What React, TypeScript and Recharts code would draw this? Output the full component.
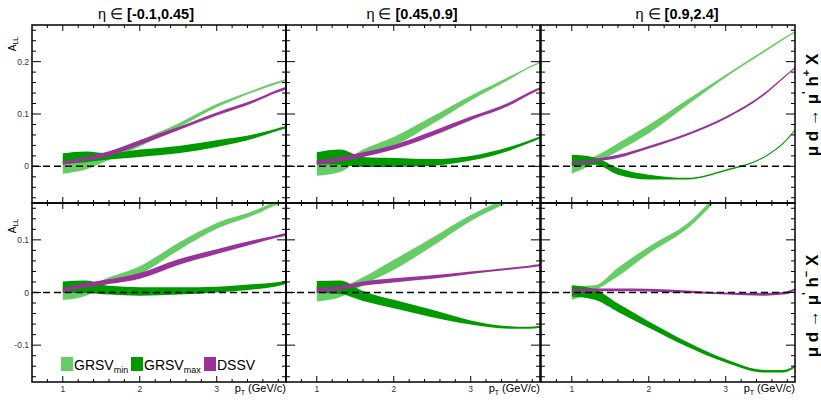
import React from 'react';
import { ComposedChart, Area, XAxis, YAxis, ReferenceLine, ReferenceArea } from 'recharts';

// pT grid (GeV/c) where the bands are sampled
const pT = [1.0, 1.3, 1.6, 2.0, 2.5, 3.0, 3.5, 3.75, 3.9];

// each band as [low, high] pairs
// eta in [-0.1,0.45], h+
const tlGrsvMin = [[-0.014, 0.018], [-0.006, 0.014], [0.012, 0.026], [0.038, 0.05], [0.074, 0.082], [0.113, 0.119], [0.143, 0.147], [0.156, 0.16], [0.163, 0.167]];
const tlGrsvMax = [[0.004, 0.025], [0.008, 0.0286], [0.013, 0.025], [0.018, 0.032], [0.025, 0.039], [0.037, 0.05], [0.054, 0.062], [0.066, 0.071], [0.073, 0.077]];
const tlDssv = [[0.003, 0.0095], [0.011, 0.018], [0.02, 0.029], [0.041, 0.05], [0.069, 0.075], [0.097, 0.103], [0.123, 0.128], [0.139, 0.144], [0.147, 0.152]];
// eta in [-0.1,0.45], h-
const blGrsvMin = [[-0.014, 0.015], [-0.006, 0.012], [0.018, 0.029], [0.035, 0.05], [0.08, 0.094], [0.121, 0.132], [0.148, 0.156], [0.165, 0.172], [0.172, 0.18]];
const blGrsvMax = [[-0.001, 0.021], [-0.001, 0.023], [-0.004, 0.0126], [-0.006, 0.01], [-0.004, 0.01], [0.0, 0.011], [0.006, 0.016], [0.011, 0.019], [0.016, 0.022]];
const blDssv = [[0.001, 0.008], [0.01, 0.018], [0.016, 0.025], [0.026, 0.037], [0.052, 0.063], [0.073, 0.082], [0.093, 0.1], [0.103, 0.108], [0.108, 0.113]];
// eta in [0.45,0.9], h+
const tmGrsvMin = [[-0.018, 0.012], [-0.011, 0.01], [0.019, 0.032], [0.039, 0.056], [0.081, 0.095], [0.126, 0.135], [0.166, 0.171], [0.187, 0.19], [0.197, 0.2]];
const tmGrsvMax = [[0.004, 0.027], [0.003, 0.032], [-0.001, 0.018], [-0.001, 0.016], [0.001, 0.014], [0.011, 0.02], [0.03, 0.037], [0.044, 0.049], [0.053, 0.057]];
const tmDssv = [[0.003, 0.011], [0.0095, 0.018], [0.018, 0.027], [0.032, 0.041], [0.058, 0.067], [0.088, 0.095], [0.116, 0.122], [0.136, 0.141], [0.147, 0.151]];
// eta in [0.45,0.9], h-
const bmGrsvMin = [[-0.017, 0.014], [-0.009, 0.012], [0.014, 0.029], [0.043, 0.062], [0.088, 0.104], [0.136, 0.147], [0.172, 0.182], [0.19, 0.2], [0.2, 0.21]];
const bmGrsvMax = [[-0.001, 0.022], [-0.003, 0.023], [-0.016, 0.003], [-0.03, -0.014], [-0.047, -0.033], [-0.061, -0.053], [-0.069, -0.064], [-0.069, -0.065], [-0.067, -0.063]];
const bmDssv = [[0.0, 0.008], [0.005, 0.0126], [0.0126, 0.021], [0.019, 0.027], [0.026, 0.033], [0.035, 0.04], [0.043, 0.047], [0.047, 0.051], [0.05, 0.054]];
// eta in [0.9,2.4], h+
const trGrsvMin = [[-0.014, 0.008], [0.006, 0.019], [0.029, 0.044], [0.063, 0.079], [0.117, 0.127], [0.17, 0.175], [0.218, 0.222], [0.242, 0.245], [0.255, 0.258]];
const trGrsvMax = [[0.0, 0.022], [0.003, 0.017], [-0.016, -0.003], [-0.025, -0.016], [-0.025, -0.022], [-0.009, -0.006], [0.0165, 0.019], [0.043, 0.046], [0.068, 0.071]];
const trDssv = [[0.003, 0.008], [0.009, 0.014], [0.016, 0.022], [0.034, 0.039], [0.059, 0.063], [0.091, 0.095], [0.136, 0.14], [0.168, 0.171], [0.187, 0.19]];
// eta in [0.9,2.4], h-
const brGrsvMin = [[-0.014, 0.012], [0.004, 0.014], [0.031, 0.047], [0.074, 0.087], [0.121, 0.131], [0.19, 0.2], [0.23, 0.24], [0.25, 0.26], [0.26, 0.27]];
const brGrsvMax = [[-0.0075, 0.014], [-0.014, 0.006], [-0.037, -0.021], [-0.067, -0.055], [-0.103, -0.094], [-0.133, -0.127], [-0.152, -0.147], [-0.152, -0.147], [-0.142, -0.138]];
const brDssv = [[-0.001, 0.005], [0.0025, 0.0075], [0.0025, 0.0075], [0.002, 0.007], [-0.001, 0.004], [-0.004, 0.0], [-0.006, -0.001], [-0.004, 0.001], [0.004, 0.008]];

const xTicks = [0.8, 1.0, 1.2, 1.4, 1.6, 1.8, 2.0, 2.2, 2.4, 2.6, 2.8, 3.0, 3.2, 3.4, 3.6, 3.8];
const topYTicks = [-0.06, -0.04, -0.02, 0, 0.02, 0.04, 0.06, 0.08, 0.1, 0.12, 0.14, 0.16, 0.18, 0.2, 0.22, 0.24, 0.26];
const bottomYTicks = [-0.16, -0.14, -0.12, -0.1, -0.08, -0.06, -0.04, -0.02, 0, 0.02, 0.04, 0.06, 0.08, 0.1, 0.12, 0.14, 0.16];
const etaBins = ['[-0.1,0.45]', '[0.45,0.9]', '[0.9,2.4]'];

const LIGHT = '#66cc66';
const DARK = '#009900';
const PURPLE = '#993399';
const FONT = '"Liberation Sans", Arial, Helvetica, sans-serif';

const PAD = 40;
const W = 254;
const COLS = [32, 286, 541];
const ROWS = [
  { top: 25, h: 178, domain: [-0.07, 0.27], ticks: topYTicks },
  { top: 203, h: 179, domain: [-0.17, 0.17], ticks: bottomYTicks },
];
const TITLE_X = [146, 412, 677];

const isMajor = (v: number, step: number) => Math.abs(v / step - Math.round(v / step)) < 1e-6;

function Panel({ col, row, min, max, dssv }: any) {
  const r = ROWS[row];
  const h = r.h;
  const data = pT.map((p, i) => ({ pT: p, min: min[i], max: max[i], dssv: dssv[i] }));

  const xTick = (props: any) => {
    const { x, payload } = props;
    const v = payload.value;
    const major = isMajor(v, 1);
    const len = major ? 6 : 3;
    const bottom = PAD + h;
    return (
      <g>
        <line x1={x} x2={x} y1={bottom} y2={bottom - len} stroke="#000" strokeWidth={1} />
        <line x1={x} x2={x} y1={PAD} y2={PAD + len} stroke="#000" strokeWidth={1} />
        {row === 1 && major && (
          <text x={x} y={bottom + 10} textAnchor="middle" fontSize={8.5} fill="#333" fontFamily={FONT}>
            {Math.round(v)}
          </text>
        )}
      </g>
    );
  };

  const yTick = (props: any) => {
    const { y, payload } = props;
    const v = payload.value;
    const major = isMajor(v, 0.1);
    const len = major ? 9 : 4;
    return (
      <g>
        <line x1={PAD} x2={PAD + len} y1={y} y2={y} stroke="#000" strokeWidth={1} />
        <line x1={PAD + W - len} x2={PAD + W} y1={y} y2={y} stroke="#000" strokeWidth={1} />
        {col === 0 && major && (
          <text x={PAD - 3} y={y + 3} textAnchor="end" fontSize={8.5} fill="#333" fontFamily={FONT}>
            {Math.abs(v) < 1e-9 ? '0' : String(Math.round(v * 10) / 10)}
          </text>
        )}
      </g>
    );
  };

  return (
    <div style={{ position: 'absolute', left: COLS[col] - PAD, top: r.top - PAD }}>
      <ComposedChart width={W + 2 * PAD} height={h + 2 * PAD} data={data} margin={{ top: PAD, right: PAD, bottom: 0, left: 0 }}>
        <XAxis
          dataKey="pT"
          type="number"
          domain={[0.6, 3.9]}
          ticks={xTicks}
          interval={0}
          height={PAD}
          axisLine={false}
          tickLine={false}
          tickSize={0}
          tickMargin={0}
          allowDataOverflow
          tick={xTick}
        />
        <YAxis
          type="number"
          domain={r.domain}
          ticks={r.ticks}
          interval={0}
          width={PAD}
          axisLine={false}
          tickLine={false}
          tickSize={0}
          tickMargin={0}
          allowDataOverflow
          tick={yTick}
        />
        <Area type="monotone" dataKey="min" fill={LIGHT} fillOpacity={1} stroke="none" isAnimationActive={false} />
        <Area type="monotone" dataKey="max" fill={DARK} fillOpacity={1} stroke="none" isAnimationActive={false} />
        <Area type="monotone" dataKey="dssv" fill={PURPLE} fillOpacity={1} stroke="none" isAnimationActive={false} />
        <ReferenceLine y={0} stroke="#000" strokeWidth={1.5} strokeDasharray="7 4" />
        <ReferenceArea x1={0.6} x2={3.9} y1={r.domain[0]} y2={r.domain[1]} fill="none" stroke="#000" strokeWidth={1.5} ifOverflow="visible" />
      </ComposedChart>
    </div>
  );
}

function Labels() {
  return (
    <svg width={821} height={400} style={{ position: 'absolute', left: 0, top: 0, pointerEvents: 'none' }} fontFamily={FONT}>
      {etaBins.map((b, i) => (
        <text key={b} x={TITLE_X[i]} y={19} textAnchor="middle" fontSize={14.5}>
          <tspan>η ∈ </tspan>
          <tspan fontWeight="bold">{b}</tspan>
        </text>
      ))}
      {[44, 226].map((cy) => (
        <text key={cy} x={16} y={cy} fontSize={10} textAnchor="middle" transform={`rotate(-90 16 ${cy})`}>
          A<tspan fontSize={7} dy={2}>LL</tspan>
        </text>
      ))}
      {COLS.map((c) => (
        <text key={c} x={c + W} y={392} textAnchor="end" fontSize={11}>
          p<tspan fontSize={7} dy={3}>T</tspan>
          <tspan dy={-3}> (GeV/c)</tspan>
        </text>
      ))}
      {[
        { cy: 105, sign: '+' },
        { cy: 306, sign: '−' },
      ].map(({ cy, sign }) => (
        <text key={cy} x={812} y={cy} fontSize={17} fontWeight="bold" textAnchor="middle" dominantBaseline="central" transform={`rotate(-90 812 ${cy})`}>
          μ d → μ<tspan fontSize={11} dy={-6}>'</tspan>
          <tspan dy={6}> h</tspan>
          <tspan fontSize={11} dy={-6}>{sign}</tspan>
          <tspan dy={6}> X</tspan>
        </text>
      ))}
      <rect x={61} y={357} width={12} height={14} fill={LIGHT} />
      <text x={74} y={370} fontSize={14}>
        GRSV<tspan fontSize={9} dy={3}>min</tspan>
      </text>
      <rect x={131} y={357} width={12} height={14} fill={DARK} />
      <text x={144} y={370} fontSize={14}>
        GRSV<tspan fontSize={9} dy={3}>max</tspan>
      </text>
      <rect x={204} y={357} width={12} height={14} fill={PURPLE} />
      <text x={217} y={370} fontSize={14}>
        DSSV
      </text>
    </svg>
  );
}

export default function App() {
  return (
    <div style={{ position: 'absolute', left: 0, top: 0, width: 821, height: 400, background: '#fff', overflow: 'hidden' }}>
      <Panel col={0} row={0} min={tlGrsvMin} max={tlGrsvMax} dssv={tlDssv} />
      <Panel col={1} row={0} min={tmGrsvMin} max={tmGrsvMax} dssv={tmDssv} />
      <Panel col={2} row={0} min={trGrsvMin} max={trGrsvMax} dssv={trDssv} />
      <Panel col={0} row={1} min={blGrsvMin} max={blGrsvMax} dssv={blDssv} />
      <Panel col={1} row={1} min={bmGrsvMin} max={bmGrsvMax} dssv={bmDssv} />
      <Panel col={2} row={1} min={brGrsvMin} max={brGrsvMax} dssv={brDssv} />
      <Labels />
    </div>
  );
}
